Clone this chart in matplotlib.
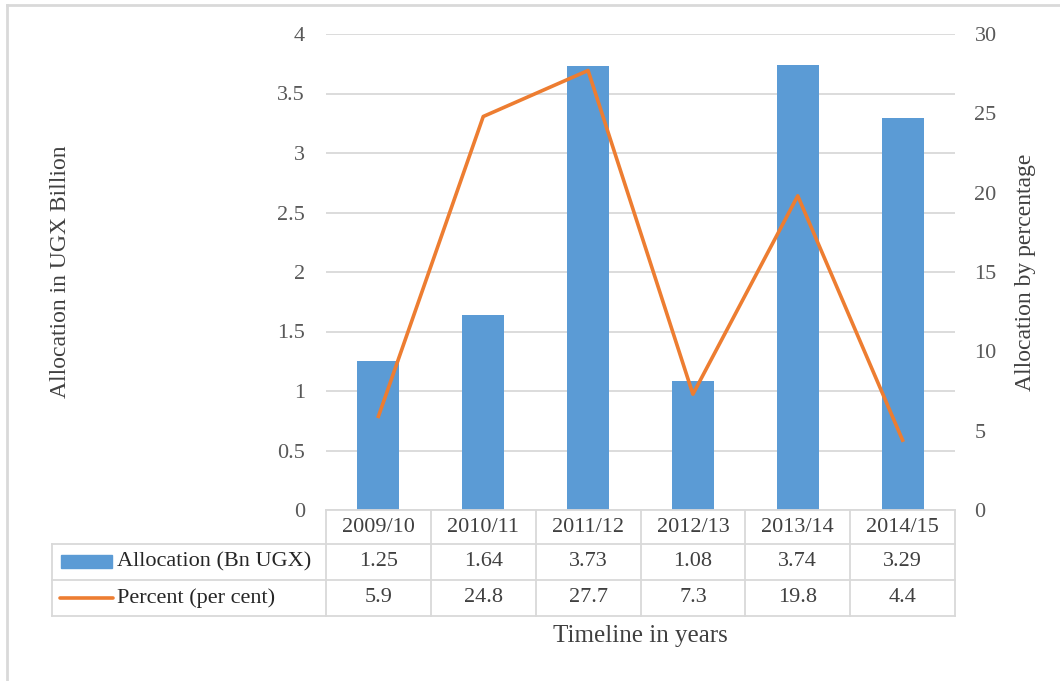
import matplotlib
matplotlib.use("Agg")
import matplotlib.pyplot as plt
from matplotlib.lines import Line2D
from matplotlib.patches import Rectangle

years = ["2009/10", "2010/11", "2011/12", "2012/13", "2013/14", "2014/15"]
allocation = [1.25, 1.64, 3.73, 1.08, 3.74, 3.29]
percent = [5.9, 24.8, 27.7, 7.3, 19.8, 4.4]
left_ticks = [0, 0.5, 1, 1.5, 2, 2.5, 3, 3.5, 4]
right_ticks = [0, 5, 10, 15, 20, 25, 30]

plt.rcParams['font.family'] = ['Liberation Serif', 'DejaVu Serif']

W, H = 1060, 681
BLUE = "#5b9bd5"
ORANGE = "#ed7d31"
GRID = "#d9d9d9"
TXT = "#595959"
DARK = "#404040"
FS = 16

fig = plt.figure(figsize=(W / 100, H / 100), dpi=100)


def fx(px):
    return px / W


def fy(py):
    return 1 - py / H


# plot area in pixels
x0, x1, ytop, ybot = 326, 955, 34, 510
ax = fig.add_axes([fx(x0), fy(ybot), fx(x1 - x0), (ybot - ytop) / H])
ax2 = ax.twinx()

n = len(years)
pos = list(range(n))
ax.bar(pos, allocation, width=0.4, color=BLUE, zorder=2)
ax.set_xlim(-0.5, n - 0.5)
ax.set_ylim(0, 4)
ax.set_yticks(left_ticks)
ax.set_yticklabels(["%g" % t for t in left_ticks])
ax.yaxis.grid(True, color=GRID, linewidth=1.3, zorder=0)
ax.set_axisbelow(True)
ax.set_xticks([])

ax2.plot(pos, percent, color=ORANGE, linewidth=2.6, zorder=3)
ax2.set_ylim(0, 30)
ax2.set_yticks(right_ticks)
ax2.set_yticklabels([str(t) for t in right_ticks])

for a in (ax, ax2):
    for s in a.spines.values():
        s.set_visible(False)
    a.tick_params(axis="y", length=0, labelsize=FS, labelcolor=TXT)
ax.tick_params(axis="y", pad=15)
ax2.tick_params(axis="y", pad=14)

# axis titles
fig.text(fx(60), fy(272), "Allocation in UGX Billion", rotation=90,
         ha="center", va="center", fontsize=FS + 1, color=DARK)
fig.text(fx(1025), fy(272), "Allocation by percentage", rotation=90,
         ha="center", va="center", fontsize=FS + 1, color=DARK)
fig.text(fx(640), fy(636), "Timeline in years", ha="center", va="center",
         fontsize=FS + 2, color=DARK)

# data table below the plot
rows = [510, 544, 580, 616]
colw = (x1 - x0) / n
lw = 1.3


def hline(xa, xb, y):
    fig.add_artist(Line2D([fx(xa), fx(xb)], [fy(y), fy(y)], color=GRID, lw=lw))


def vline(x, ya, yb):
    fig.add_artist(Line2D([fx(x), fx(x)], [fy(ya), fy(yb)], color=GRID, lw=lw))


hline(x0, x1, rows[0])
for y in rows[1:]:
    hline(52, x1, y)
for i in range(n + 1):
    vline(x0 + i * colw, rows[0], rows[3])
vline(52, rows[1], rows[3])

for i, yr in enumerate(years):
    cx = x0 + (i + 0.5) * colw
    fig.text(fx(cx), fy((rows[0] + rows[1]) / 2), yr, ha="center", va="center",
             fontsize=FS, color=DARK)
    fig.text(fx(cx), fy((rows[1] + rows[2]) / 2), "%.2f" % allocation[i],
             ha="center", va="center", fontsize=FS, color=DARK)
    fig.text(fx(cx), fy((rows[2] + rows[3]) / 2), "%g" % percent[i],
             ha="center", va="center", fontsize=FS, color=DARK)

# legend keys in the table
fig.add_artist(Rectangle((fx(61), fy(568)), fx(51), (568 - 555) / H,
                         color=BLUE, transform=fig.transFigure))
fig.add_artist(Line2D([fx(60), fx(113)], [fy(598), fy(598)], color=ORANGE,
                      lw=2.6, solid_capstyle="round"))
fig.text(fx(117), fy((rows[1] + rows[2]) / 2), "Allocation (Bn UGX)",
         ha="left", va="center", fontsize=FS, color="#262626")
fig.text(fx(117), fy((rows[2] + rows[3]) / 2), "Percent (per cent)",
         ha="left", va="center", fontsize=FS, color="#262626")

# chart frame
fig.add_artist(Line2D([fx(7), fx(W)], [fy(5), fy(5)], color=GRID, lw=2))
fig.add_artist(Line2D([fx(7), fx(7)], [fy(5), fy(H)], color=GRID, lw=2))

fig.savefig("out.png", dpi=100)
